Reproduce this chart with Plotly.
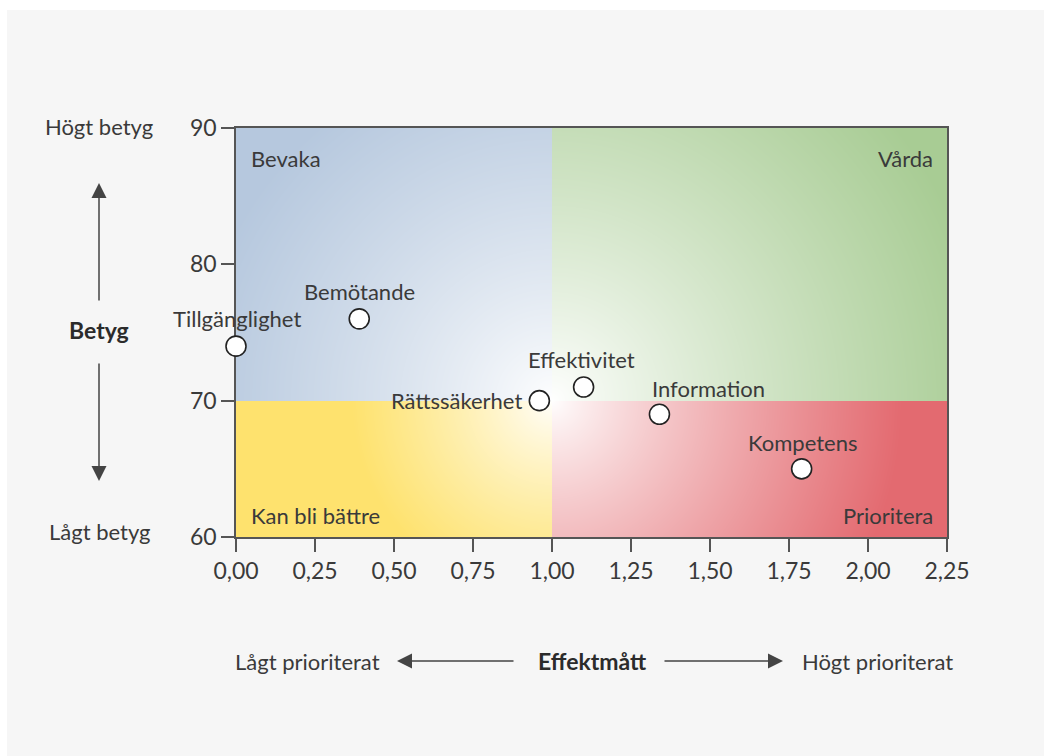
import base64, struct, zlib
import numpy as np
import plotly.graph_objects as go

# ---- data ----
omraden = ["Tillgänglighet", "Bemötande", "Rättssäkerhet", "Effektivitet", "Information", "Kompetens"]
effektmatt = [0.00, 0.39, 0.96, 1.10, 1.34, 1.79]
betyg = [74, 76, 70, 71, 69, 65]

x_ticks = [0, 0.25, 0.5, 0.75, 1.0, 1.25, 1.5, 1.75, 2.0, 2.25]
x_ticktext = ["0,00", "0,25", "0,50", "0,75", "1,00", "1,25", "1,50", "1,75", "2,00", "2,25"]
y_ticks = [60, 70, 80, 90]

kvadranter = ["Bevaka", "Vårda", "Kan bli bättre", "Prioritera"]

X_MIN, X_MAX, Y_MIN, Y_MAX = 0, 2.25, 60, 90
X_MID, Y_MID = 1.0, 70

# label placement (style only)
lab_style = {
    "Tillgänglighet": dict(xanchor="center", xshift=1, yshift=28),
    "Bemötande": dict(xanchor="center", xshift=0, yshift=27),
    "Rättssäkerhet": dict(xanchor="right", xshift=-15, yshift=0),
    "Effektivitet": dict(xanchor="center", xshift=-2, yshift=28),
    "Information": dict(xanchor="left", xshift=-9, yshift=26),
    "Kompetens": dict(xanchor="center", xshift=1, yshift=26),
}

# ---- background gradient image (decoration) ----
W, H = 711, 409
cx = (X_MID - X_MIN) / (X_MAX - X_MIN) * W
cy = (Y_MAX - Y_MID) / (Y_MAX - Y_MIN) * H
jj, ii = np.meshgrid(np.arange(W) + 0.5, np.arange(H) + 0.5)
d = np.sqrt((jj - cx) ** 2 + (ii - cy) ** 2)
img = np.zeros((H, W, 3), dtype=float)

def fill(mask, col, R, gamma):
    t = np.clip(d / R, 0, 1) ** gamma
    for k in range(3):
        v = 255 * (1 - t) + col[k] * t
        img[..., k] = np.where(mask, v, img[..., k])

left = jj < cx
top = ii < cy
fill(left & top, (182, 200, 222), 360, 0.8)
fill(~left & top, (168, 204, 148), 440, 0.85)
fill(left & ~top, (254, 226, 110), 200, 0.8)
fill(~left & ~top, (227, 106, 112), 350, 0.85)
arr = np.clip(np.round(img), 0, 255).astype(np.uint8)

def png_bytes(a):
    h, w, _ = a.shape
    raw = b"".join(b"\x00" + a[r].tobytes() for r in range(h))
    def chunk(t, dd):
        c = struct.pack(">I", len(dd)) + t + dd
        return c + struct.pack(">I", zlib.crc32(t + dd) & 0xFFFFFFFF)
    return (b"\x89PNG\r\n\x1a\n" + chunk(b"IHDR", struct.pack(">IIBBBBB", w, h, 8, 2, 0, 0, 0))
            + chunk(b"IDAT", zlib.compress(raw, 9)) + chunk(b"IEND", b""))

src = "data:image/png;base64," + base64.b64encode(png_bytes(arr)).decode()

FONT = "Lato, 'Open Sans', sans-serif"
TXT = "#3a3a3a"
FS = 22

fig = go.Figure()
fig.add_trace(go.Scatter(
    x=effektmatt, y=betyg, mode="markers",
    marker=dict(size=20, color="white", line=dict(color="#222222", width=1.6)),
    cliponaxis=False, hoverinfo="text", text=omraden, showlegend=False,
))

annotations = []
for n, xv, yv in zip(omraden, effektmatt, betyg):
    s = lab_style[n]
    annotations.append(dict(x=xv, y=yv, xref="x", yref="y", text=n, showarrow=False,
                            xanchor=s["xanchor"], yanchor="middle", xshift=s["xshift"], yshift=s["yshift"],
                            font=dict(size=FS, color=TXT, family=FONT)))

# quadrant labels
qpos = [(X_MIN, Y_MAX, "left", 13, -30), (X_MAX, Y_MAX, "right", -12, -30),
        (X_MIN, Y_MIN, "left", 13, 22), (X_MAX, Y_MIN, "right", -12, 22)]
for q, (qx, qy, xa, xs, ys) in zip(kvadranter, qpos):
    annotations.append(dict(x=qx, y=qy, xref="x", yref="y", text=q, showarrow=False,
                            xanchor=xa, yanchor="middle", xshift=xs, yshift=ys,
                            font=dict(size=FS, color=TXT, family=FONT)))

def px(xp):
    return (xp - 236) / 711

def py(yp):
    return (537 - yp) / 409

side = [("Högt betyg", 99, 127, False), ("Lågt betyg", 99, 531, False), ("<b>Betyg</b>", 99, 330, True),
        ("Lågt prioriterat", 307, 661, False), ("<b>Effektmått</b>", 592, 661, True),
        ("Högt prioriterat", 877, 661, False)]
for t, xp, yp, b in side:
    annotations.append(dict(x=px(xp), y=py(yp), xref="paper", yref="paper", text=t, showarrow=False,
                            xanchor="center", yanchor="middle",
                            font=dict(size=23 if b else FS, color="#2b2b2b" if b else TXT, family=FONT)))

arrows = [(99, 183, 0, 119), (99, 481, 0, -119), (397, 661, 118, 0), (783, 661, -120, 0)]
for hx, hy, axo, ayo in arrows:
    annotations.append(dict(x=px(hx), y=py(hy), xref="paper", yref="paper", text="", showarrow=True,
                            ax=axo, ay=ayo, arrowhead=2, arrowsize=2, arrowwidth=1.5, arrowcolor="#444444"))

fig.update_layout(
    width=1044, height=756,
    margin=dict(l=236, r=97, t=128, b=219),
    paper_bgcolor="white", plot_bgcolor="rgba(0,0,0,0)",
    font=dict(family=FONT, color=TXT, size=FS),
    annotations=annotations,
    images=[dict(source=src, xref="x", yref="y", x=X_MIN, y=Y_MAX, sizex=X_MAX - X_MIN,
                 sizey=Y_MAX - Y_MIN, sizing="stretch", xanchor="left", yanchor="top", layer="below")],
    shapes=[dict(type="rect", xref="paper", yref="paper", x0=px(7), x1=px(1044), y0=py(756), y1=py(10),
                 fillcolor="#f6f6f6", line=dict(width=0), layer="below")],
    xaxis=dict(range=[X_MIN, X_MAX], tickvals=x_ticks, ticktext=x_ticktext, showgrid=False, zeroline=False,
               showline=True, linecolor="#555555", linewidth=1.5, mirror=True, ticks="outside", ticklen=13,
               tickwidth=1.5, tickcolor="#555555", tickfont=dict(size=23, color=TXT), layer="below traces",
               fixedrange=True),
    yaxis=dict(range=[Y_MIN, Y_MAX], tickvals=y_ticks, showgrid=False, zeroline=False,
               showline=True, linecolor="#555555", linewidth=1.5, mirror=True, ticks="outside", ticklen=13,
               tickwidth=1.5, tickcolor="#555555", tickfont=dict(size=23, color=TXT), layer="below traces",
               fixedrange=True),
)

fig.write_html("out.html", config={"displayModeBar": False},
               post_script="document.body.style.margin='0';document.body.style.overflow='hidden';")
